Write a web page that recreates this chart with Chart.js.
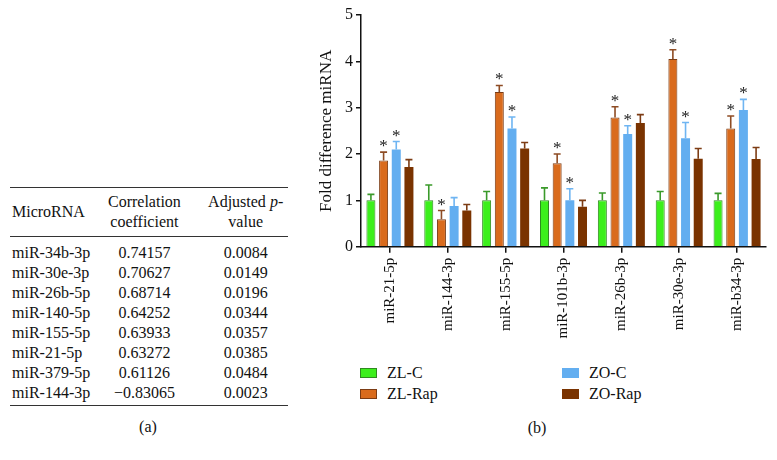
<!DOCTYPE html>
<html>
<head>
<meta charset="utf-8">
<script src="https://cdn.jsdelivr.net/npm/chart.js@4/dist/chart.umd.min.js"></script>
<style>
  body { margin: 0; background: #fff; font-family: "Liberation Serif", "Times New Roman", serif; color: #111; }
  #page { position: relative; width: 777px; height: 460px; overflow: hidden; }
  #tbl { position: absolute; left: 10px; top: 187px; width: 278px; border-collapse: collapse; font-size: 16px; line-height: 20px; }
  #tbl thead th { font-weight: normal; border-top: 1.5px solid #333; border-bottom: 1.5px solid #333; padding: 4px 0 4px 0; vertical-align: middle; }
  #tbl tbody td { padding: 0; height: 20px; }
  #tbl tbody tr:first-child td { padding-top: 6px; }
  #tbl tbody tr:last-child td { padding-bottom: 2px; border-bottom: 1.5px solid #333; }
  .c1 { text-align: left; padding-left: 2px !important; width: 88px; }
  .c2 { text-align: center; width: 98px; }
  .c3 { text-align: center; width: 90px; padding-left: 12px !important; }
  #chartBox { position: absolute; left: 300px; top: 0; width: 477px; height: 360px; }
  .lg { position: absolute; font-size: 16px; line-height: 20px; }
  .sw { position: absolute; width: 15px; height: 8px; }
  .cap { position: absolute; font-size: 16px; line-height: 20px; transform: translateX(-50%); }
</style>
</head>
<body>
<div id="page">
  <table id="tbl">
    <thead>
      <tr><th class="c1">MicroRNA</th><th class="c2">Correlation<br>coefficient</th><th class="c3">Adjusted <i>p</i>-<br>value</th></tr>
    </thead>
    <tbody id="tbody"></tbody>
  </table>
  <div class="cap" style="left:148px; top:417px;">(a)</div>

  <div id="chartBox"><canvas id="bars" width="477" height="360"></canvas></div>
  <div id="legend"></div>
  <div class="cap" style="left:537px; top:418px;">(b)</div>
</div>

<script>
// table (a)
const tblMirna = ["miR-34b-3p", "miR-30e-3p", "miR-26b-5p", "miR-140-5p", "miR-155-5p", "miR-21-5p", "miR-379-5p", "miR-144-3p"];
const tblCorr = ["0.74157", "0.70627", "0.68714", "0.64252", "0.63933", "0.63272", "0.61126", "\u22120.83065"];
const tblPval = ["0.0084", "0.0149", "0.0196", "0.0344", "0.0357", "0.0385", "0.0484", "0.0023"];

// chart (b)
const categories = ["miR-21-5p", "miR-144-3p", "miR-155-5p", "miR-101b-3p", "miR-26b-3p", "miR-30e-3p", "miR-b34-3p"];
const zlC = [1, 1, 1, 1, 1, 1, 1];
const zlCErr = [0.13, 0.33, 0.19, 0.27, 0.16, 0.19, 0.15];
const zlRap = [1.86, 0.59, 3.34, 1.80, 2.79, 4.05, 2.55];
const zlRapErr = [0.18, 0.19, 0.14, 0.20, 0.23, 0.20, 0.27];
const zoC = [2.10, 0.88, 2.55, 1.00, 2.43, 2.34, 2.95];
const zoCErr = [0.17, 0.18, 0.25, 0.25, 0.18, 0.34, 0.23];
const zoRap = [1.72, 0.78, 2.12, 0.86, 2.67, 1.90, 1.89];
const zoRapErr = [0.16, 0.13, 0.13, 0.14, 0.18, 0.22, 0.25];
// significance marks (*)
const zlCSig = [0, 0, 0, 0, 0, 0, 0];
const zlRapSig = [1, 1, 1, 1, 1, 1, 1];
const zoCSig = [1, 0, 1, 1, 1, 1, 1];
const zoRapSig = [0, 0, 0, 0, 0, 0, 0];

const SERIF = `"Liberation Serif", "Times New Roman", serif`;

function FillTable() {
  const tbody = document.getElementById(`tbody`);
  tblMirna.forEach((m, i) => {
    const tr = document.createElement(`tr`);
    tr.innerHTML = `<td class="c1">${m}</td><td class="c2">${tblCorr[i]}</td><td class="c3">${tblPval[i]}</td>`;
    tbody.appendChild(tr);
  });
}

const series = [
  { label: "ZL-C", data: zlC, err: zlCErr, sig: zlCSig, fill: "#3cef1c", border: "#2f8a20", errColor: "#3a9a2a", bw: 1 },
  { label: "ZL-Rap", data: zlRap, err: zlRapErr, sig: zlRapSig, fill: "#d96b1d", border: "#7c3c14", errColor: "#8e4c24", bw: 1 },
  { label: "ZO-C", data: zoC, err: zoCErr, sig: zoCSig, fill: "#63aef0", border: "#63aef0", errColor: "#6fb5f2", bw: 0 },
  { label: "ZO-Rap", data: zoRap, err: zoRapErr, sig: zoRapSig, fill: "#7a3300", border: "#7a3300", errColor: "#7d3c14", bw: 0 },
];

// error bars + asterisks on top of the bars
const errorBars = {
  id: "errorBars",
  afterDatasetsDraw(chart) {
    const ctx = chart.ctx;
    const y = chart.scales.y;
    ctx.save();
    chart.data.datasets.forEach((ds, i) => {
      const s = series[i];
      chart.getDatasetMeta(i).data.forEach((bar, j) => {
        const top = y.getPixelForValue(s.data[j] + s.err[j]);
        ctx.strokeStyle = s.errColor;
        ctx.lineWidth = 1.6;
        ctx.beginPath();
        ctx.moveTo(bar.x, bar.y);
        ctx.lineTo(bar.x, top);
        ctx.moveTo(bar.x - 3.5, top);
        ctx.lineTo(bar.x + 3.5, top);
        ctx.stroke();
        if (s.sig[j]) {
          ctx.fillStyle = "#222";
          ctx.font = `17px ${SERIF}`;
          ctx.textAlign = "center";
          ctx.textBaseline = "alphabetic";
          ctx.fillText("*", bar.x, top - 1);
        }
      });
    });
    ctx.restore();
  },
};

function SetLegend() {
  const legend = document.getElementById(`legend`);
  const pos = [[360, 373], [360, 394], [562, 373], [562, 394]];
  series.forEach((s, i) => {
    const [lx, cy] = pos[i];
    const sw = document.createElement(`div`);
    sw.className = `sw`;
    sw.style.left = `${lx}px`;
    sw.style.top = `${cy - 5}px`;
    sw.style.background = s.fill;
    sw.style.border = `1px solid ${s.bw ? s.border : s.fill}`;
    legend.appendChild(sw);
    const t = document.createElement(`div`);
    t.className = `lg`;
    t.style.left = `${lx + 27}px`;
    t.style.top = `${cy - 10}px`;
    t.innerText = s.label;
    legend.appendChild(t);
  });
}

function SetChart() {
  const ctx = document.getElementById(`bars`).getContext(`2d`);
  Chart.defaults.font.family = SERIF;
  new Chart(ctx, {
    type: "bar",
    data: {
      labels: categories,
      datasets: series.map((s) => ({
        label: s.label,
        data: s.data,
        backgroundColor: s.fill,
        borderColor: s.border,
        borderWidth: s.bw,
        categoryPercentage: 0.876,
        barPercentage: 0.71,
      })),
    },
    options: {
      responsive: false,
      devicePixelRatio: 1,
      animation: false,
      layout: { padding: { top: 15, right: 11, left: 0, bottom: 0 } },
      plugins: { legend: { display: false }, tooltip: { enabled: false } },
      scales: {
        x: {
          offset: true,
          grid: { drawOnChartArea: false, offset: false, tickLength: 6, color: "#111", lineWidth: 1.5 },
          border: { color: "#111", width: 1.5 },
          ticks: { font: { family: SERIF, size: 15 }, color: "#111", minRotation: 90, maxRotation: 90, autoSkip: false, padding: 5 },
          afterFit: (s) => { s.height = 113.3; },
        },
        y: {
          min: 0,
          max: 5,
          grid: { drawOnChartArea: false, tickLength: 5, color: "#111", lineWidth: 1.5 },
          border: { color: "#111", width: 1.5 },
          ticks: { stepSize: 1, font: { family: SERIF, size: 16 }, color: "#111", padding: 3 },
          title: { display: true, text: "Fold difference miRNA", font: { family: SERIF, size: 17 }, color: "#111", padding: { top: 16, bottom: 0 } },
          afterFit: (s) => { s.width = 61; },
        },
      },
    },
    plugins: [errorBars],
  });
}

FillTable();
SetLegend();
Promise.all([
  document.fonts.load(`16px "Liberation Serif"`),
  document.fonts.load(`italic 16px "Liberation Serif"`),
]).catch(() => {}).then(SetChart);
</script>
</body>
</html>
